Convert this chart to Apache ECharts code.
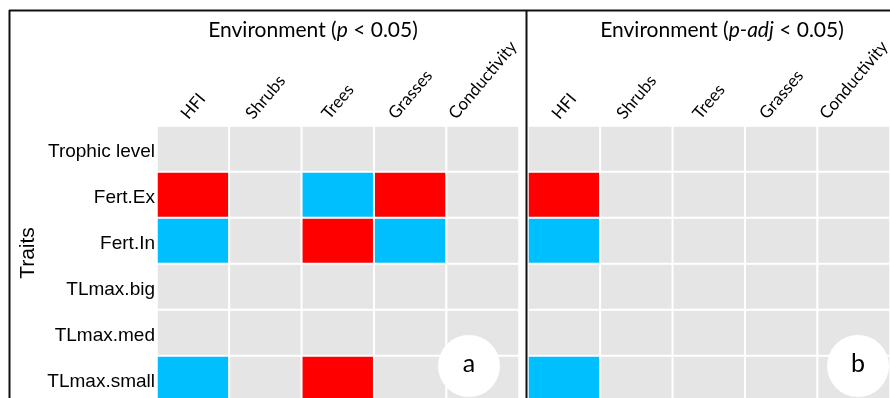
<!DOCTYPE html>
<html>
<head>
<meta charset="utf-8">
<script src="https://cdn.jsdelivr.net/npm/echarts@6/dist/echarts.min.js"></script>
<style>
html,body{margin:0;padding:0;background:#fff;}
#chart{width:890px;height:398px;}
</style>
</head>
<body>
<div id="chart"></div>
<script>
// Categories
const traits = ['Trophic level', 'Fert.Ex', 'Fert.In', 'TLmax.big', 'TLmax.med', 'TLmax.small'];
const environments = ['HFI', 'Shrubs', 'Trees', 'Grasses', 'Conductivity'];
// Effect sign: 1 = red, -1 = blue, 0 = not significant (grey)
const panelA = [
  [0, 0, 0, 0, 0],
  [1, 0, -1, 1, 0],
  [-1, 0, 1, -1, 0],
  [0, 0, 0, 0, 0],
  [0, 0, 0, 0, 0],
  [-1, 0, 1, 0, 0]
];
const panelB = [
  [0, 0, 0, 0, 0],
  [1, 0, 0, 0, 0],
  [-1, 0, 0, 0, 0],
  [0, 0, 0, 0, 0],
  [0, 0, 0, 0, 0],
  [-1, 0, 0, 0, 0]
];
const panelLetters = ['a', 'b'];

function toData(m) {
  const out = [];
  m.forEach((row, yi) => row.forEach((v, xi) => out.push([xi, yi, v])));
  return out;
}

const labelFont = 'Lato, "Open Sans", sans-serif';
const armFont = '"Liberation Sans", Arial, sans-serif';
const colFontSize = 17;

// Rotated column labels: centred over their column, bottoms level
const ROT = 50, rad = ROT * Math.PI / 180;
const ctx = document.createElement('canvas').getContext('2d');
ctx.font = colFontSize + 'px Lato';
const colRich = {};
environments.forEach((name, i) => {
  const w = ctx.measureText(name).width;
  const h = 13;
  const hh = 0.5 * w * Math.sin(rad) + 0.5 * h * Math.cos(rad);
  const padL = 2 * Math.sin(rad) * (5 + hh);
  const padB = padL * Math.cos(rad) / Math.sin(rad);
  colRich['c' + i] = {fontSize: colFontSize, fontFamily: labelFont, color: '#000', padding: [0, 0, padB, padL]};
});

const chart = echarts.init(document.getElementById('chart'), null, {renderer: 'canvas'});

const xAxisCommon = {
  type: 'category', data: environments, position: 'top',
  axisLine: {show: false}, axisTick: {show: false}, splitLine: {show: false},
  axisLabel: {
    rotate: -ROT, margin: 0, align: 'center', verticalAlign: 'middle',
    color: '#000', fontSize: colFontSize, fontFamily: labelFont, interval: 0,
    formatter: (v, i) => '{c' + i + '|' + v + '}',
    rich: colRich
  }
};
const yAxisCommon = {
  type: 'category', data: traits, inverse: true,
  axisLine: {show: false}, axisTick: {show: false}, splitLine: {show: false}
};

function titleText(x, italicPart) {
  return {
    type: 'text', x: x, y: 30, z: 100,
    style: {
      text: '{n|Environment (}{i|' + italicPart + '}{n| < 0.05)}',
      align: 'center', verticalAlign: 'middle',
      rich: {
        n: {fontSize: 21, fontFamily: labelFont, fill: '#000', color: '#000'},
        i: {fontSize: 21, fontFamily: labelFont, fontStyle: 'italic', fill: '#000', color: '#000'}
      }
    }
  };
}

function letterCircle(cx, letter) {
  return {
    type: 'group', z: 100,
    children: [
      {type: 'circle', shape: {cx: cx, cy: 366, r: 31}, style: {fill: '#fff'}, z: 100},
      {type: 'text', x: cx, y: 364, z: 101, style: {text: letter, fontSize: 25, fontFamily: labelFont, fill: '#000', align: 'center', verticalAlign: 'middle'}}
    ]
  };
}

const option = {
  backgroundColor: '#fff',
  animation: false,
  grid: [
    {left: 157, top: 126, width: 362, height: 276, outerBoundsMode: 'none', containLabel: false},
    {left: 528, top: 126, width: 362, height: 276, outerBoundsMode: 'none', containLabel: false}
  ],
  xAxis: [
    Object.assign({gridIndex: 0}, xAxisCommon),
    Object.assign({gridIndex: 1}, xAxisCommon)
  ],
  yAxis: [
    Object.assign({gridIndex: 0}, yAxisCommon, {axisLabel: {
      color: '#000', fontSize: 19, fontFamily: armFont, margin: 2, interval: 0,
      formatter: v => '{t|' + v + '}',
      rich: {t: {fontSize: 19, fontFamily: armFont, color: '#000', padding: [6, 0, 0, 0]}}
    }}),
    Object.assign({gridIndex: 1}, yAxisCommon, {axisLabel: {show: false}})
  ],
  visualMap: {
    type: 'piecewise', show: false, dimension: 2,
    pieces: [
      {value: 1, color: '#FF0000'},
      {value: -1, color: '#00BFFF'},
      {value: 0, color: '#E5E5E5'}
    ]
  },
  series: [
    {type: 'heatmap', xAxisIndex: 0, yAxisIndex: 0, data: toData(panelA),
     itemStyle: {borderColor: '#fff', borderWidth: 2}, emphasis: {disabled: true}},
    {type: 'heatmap', xAxisIndex: 1, yAxisIndex: 1, data: toData(panelB),
     itemStyle: {borderColor: '#fff', borderWidth: 2}, emphasis: {disabled: true}}
  ],
  graphic: [
    {type: 'line', shape: {x1: 9, y1: 10.5, x2: 890, y2: 10.5}, style: {stroke: '#111', lineWidth: 2}, z: 100},
    {type: 'line', shape: {x1: 9.5, y1: 10, x2: 9.5, y2: 398}, style: {stroke: '#111', lineWidth: 2}, z: 100},
    {type: 'line', shape: {x1: 526.5, y1: 10, x2: 526.5, y2: 398}, style: {stroke: '#111', lineWidth: 2}, z: 100},
    titleText(313, 'p'),
    titleText(722, 'p-adj'),
    {type: 'text', x: 28, y: 253, rotation: Math.PI / 2, z: 100,
     style: {text: 'Traits', fontSize: 21, fontFamily: armFont, fill: '#000', align: 'center', verticalAlign: 'middle'}},
    letterCircle(469, panelLetters[0]),
    letterCircle(858, panelLetters[1])
  ]
};
chart.setOption(option);
</script>
</body>
</html>
